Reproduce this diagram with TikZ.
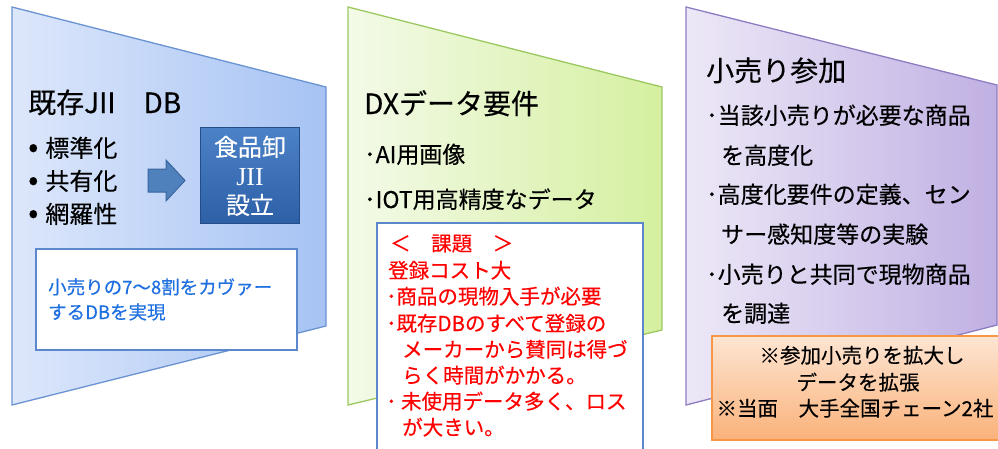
\documentclass[tikz,border=0pt]{standalone}
\usepackage{fontspec}
\setmainfont{Noto Sans CJK JP}[FakeBold=0.35]
\newfontfamily\jiifont{Liberation Serif}
\newcommand\myfs[1]{\fontsize{#1pt}{#1pt}\selectfont}
\definecolor{paAl}{HTML}{DDE7FB}
\definecolor{paAr}{HTML}{A6C3F3}
\definecolor{paAb}{HTML}{6A93D2}
\definecolor{paBl}{HTML}{F3FAE8}
\definecolor{paBr}{HTML}{D5F0A0}
\definecolor{paBb}{HTML}{9CC860}
\definecolor{paCl}{HTML}{EDE8F7}
\definecolor{paCr}{HTML}{C0B0E3}
\definecolor{paCb}{HTML}{8E7CC3}
\definecolor{boxb}{HTML}{5B88CC}
\definecolor{bluetxt}{HTML}{1E6FE0}
\definecolor{redtxt}{HTML}{FF0000}
\definecolor{orT}{HTML}{FDE5D2}
\definecolor{orB}{HTML}{FAB27A}
\definecolor{orb}{HTML}{F79646}
\definecolor{arrF}{HTML}{4F81BD}
\definecolor{arrB}{HTML}{3A659E}
\definecolor{bxT}{HTML}{4C82C8}
\definecolor{bxB}{HTML}{2D60A6}
\begin{document}
\begin{tikzpicture}[x=1pt,y=-1pt,
  txt/.style={inner sep=0pt, anchor=base west},
  ctr/.style={inner sep=0pt, anchor=base},
  panel/.style={line width=1.3pt},
  wbox/.style={fill=white, draw=boxb, line width=1.6pt}]
\useasboundingbox (0,0) rectangle (998,448);
% panels
\path[panel, draw=paAb, left color=paAl, right color=paAr] (12,7) -- (326,87) -- (326,326) -- (12,405) -- cycle;
\path[panel, draw=paBb, left color=paBl, right color=paBr] (348,7) -- (662,87) -- (662,330) -- (348,405) -- cycle;
\path[panel, draw=paCb, left color=paCl, right color=paCr] (686,7) -- (997,85) -- (997,325) -- (686,405) -- cycle;

% panel 1
\node[txt, font=\myfs{28}] (t1) at (28,113) {既存JII　DB};
\node[txt, font=\myfs{24}] (b1) at (28,157) {{\myfs{30}•}\hspace{7pt}標準化};
\node[txt, font=\myfs{24}] (b2) at (28,190) {{\myfs{30}•}\hspace{7pt}共有化};
\node[txt, font=\myfs{24}] (b3) at (28,223) {{\myfs{30}•}\hspace{7pt}網羅性};
\path[fill=arrF, draw=arrB, line width=1pt] (148,169) -- (166,169) -- (166,160) -- (185,180.5) -- (166,201) -- (166,192) -- (148,192) -- cycle;
\path[top color=bxT, bottom color=bxB, draw=bxB!80!black, line width=0.8pt] (200,127) rectangle (299,223);
\node[ctr, font=\myfs{24}, text=white] (j1) at (250,156) {食品卸};
\node[ctr, font=\myfs{26}\jiifont, text=white] (j2) at (250,185) {JII};
\node[ctr, font=\myfs{24}, text=white] (j3) at (250,214) {設立};
\draw[wbox] (36,249) rectangle (297,350);
\node[txt, font=\myfs{18.5}, text=bluetxt] (c1) at (48,294) {小売りの7〜8割をカヴァー};
\node[txt, font=\myfs{18.5}, text=bluetxt] (c2) at (48,319) {するDBを実現};

% panel 2
\node[txt, font=\myfs{28}] (t2) at (364,114) {DXデータ要件};
\node[txt, font=\myfs{23}] (d1) at (364,163) {･AI用画像};
\node[txt, font=\myfs{23}] (d2) at (364,208) {･IOT用高精度なデータ};
\draw[wbox] (377,223) rectangle (643,470);
\begin{scope}[every node/.style={txt, font=\myfs{20.5}, text=redtxt}]
\node (r1) at (390,251) {＜　課題　＞};
\node (r2) at (388,278) {登録コスト大};
\node (r3) at (386,304) {･商品の現物入手が必要};
\node (r4) at (386,331) {･既存DBのすべて登録の};
\node (r5) at (402,357) {メーカーから賛同は得づ};
\node (r6) at (402,383) {らく時間がかかる。};
\node (r7) at (386,409) {･ 未使用データ多く、ロス};
\node (r8) at (402,435) {が大きい。};
\end{scope}

% panel 3
\node[txt, font=\myfs{28}] (t3) at (706,81) {小売り参加};
\begin{scope}[every node/.style={txt, font=\myfs{23}}]
\node (s1) at (706,124) {･当該小売りが必要な商品};
\node (s2) at (721,164) {を高度化};
\node (s3) at (706,203) {･高度化要件の定義、セン};
\node (s4) at (721,243) {サー感知度等の実験};
\node (s5) at (706,283) {･小売りと共同で現物商品};
\node (s6) at (721,322) {を調達};
\end{scope}
\path[top color=orT, bottom color=orB, draw=orb, line width=1.3pt] (712,336) rectangle (1010,440);
\begin{scope}[every node/.style={ctr, font=\myfs{20.5}}]
\node (o1) at (862,363) {※参加小売りを拡大し};
\node (o2) at (858,390) {データを拡張};
\node (o3) at (855,416) {※当面　大手全国チェーン2社};
\end{scope}
\end{tikzpicture}
\end{document}
